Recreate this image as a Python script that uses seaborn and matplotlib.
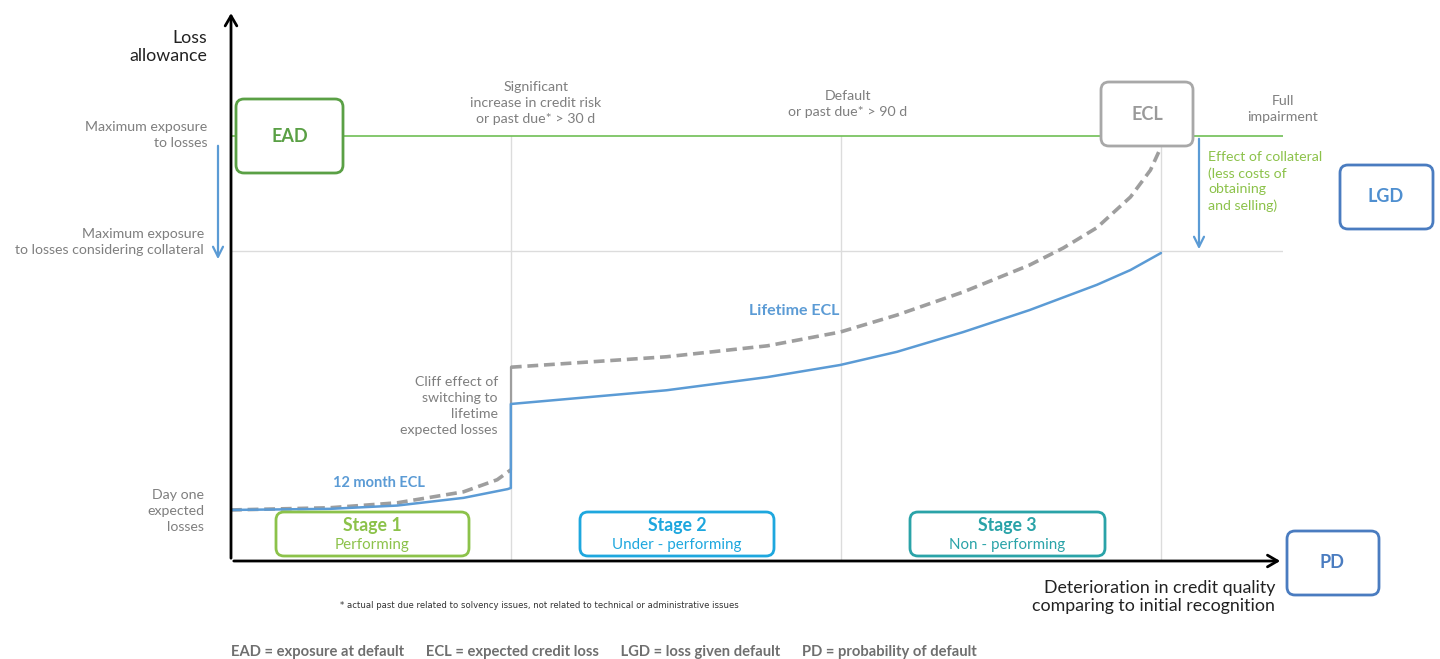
import matplotlib
matplotlib.use("Agg")
import matplotlib.pyplot as plt
import seaborn as sns
import pandas as pd
from matplotlib.patches import FancyBboxPatch

# Kurven (x: Verschlechterung 0..100, y: Risikovorsorge 0..100)
stage1_x = [0, 9.4, 15.8, 22.1, 26.3, 26.6]
stage1_y = [9.3, 9.5, 10.1, 11.5, 13.1, 13.3]
lifetime_x = [26.6, 41.4, 51.0, 57.9, 63.3, 69.6, 75.9, 82.3, 85.5, 88.4]
lifetime_y = [28.6, 31.1, 33.5, 35.7, 38.1, 41.7, 45.7, 50.3, 53.0, 56.1]
dash1_x = [0, 9.4, 15.8, 22.1, 25.3, 26.6]
dash1_y = [9.3, 9.7, 10.6, 12.6, 14.8, 16.6]
dash2_x = [26.6, 41.4, 51.0, 57.9, 63.3, 69.6, 75.9, 79.1, 82.3, 85.5, 87.4, 88.4]
dash2_y = [35.3, 37.2, 39.2, 41.7, 44.8, 49.0, 53.9, 57.0, 60.7, 66.3, 71.2, 75.4]

stage_bounds = [26.6, 58.0, 88.4]
ead_level = 77.4
collateral_level = 56.5

stage_names = ["Stage 1", "Stage 2", "Stage 3"]
stage_desc = ["Performing", "Under - performing", "Non - performing"]

GREEN = "#70bf55"
GREEN_BOX = "#5aa045"
LIGHT_GREEN = "#8cc24a"
BLUE = "#5b9bd5"
GREY = "#9e9e9e"
TXT = "#7f7f7f"
STAGE_COLORS = [LIGHT_GREEN, "#1ea7de", "#2aa3a8"]
LS = 1.38  # Zeilenabstand der grauen Beschriftungen

sns.set_theme(style="white")
plt.rcParams["font.family"] = ["Lato", "DejaVu Sans"]

fig = plt.figure(figsize=(14.4, 6.59), dpi=100)
ax = fig.add_axes([231 / 1440, 98 / 659, 1052 / 1440, 549 / 659])
ax.set_xlim(0, 100)
ax.set_ylim(0, 100)
ax.axis("off")

# Hilfslinien
for xb in stage_bounds:
    top = ead_level if xb < 80 else 75.5
    ax.plot([xb, xb], [0, top], color="#dcdcdc", lw=1, zorder=1)
ax.plot([0, 100], [collateral_level, collateral_level], color="#dcdcdc", lw=1, zorder=1)
ax.plot([0, 100], [ead_level, ead_level], color=GREEN, lw=1.2, zorder=1)

# Kurven
curves = pd.concat([
    pd.DataFrame({"x": dash1_x, "y": dash1_y, "seg": "d1"}),
    pd.DataFrame({"x": dash2_x, "y": dash2_y, "seg": "d2"}),
])
sns.lineplot(data=curves, x="x", y="y", units="seg", estimator=None, sort=False,
             color=GREY, lw=2.6, linestyle=(0, (3, 1.6)), ax=ax, zorder=2)
ax.plot([dash1_x[-1], dash2_x[0]], [dash1_y[-1], dash2_y[0]], color=GREY, lw=1.6, zorder=2)

solid = pd.concat([
    pd.DataFrame({"x": stage1_x, "y": stage1_y}),
    pd.DataFrame({"x": lifetime_x, "y": lifetime_y}),
])
sns.lineplot(data=solid, x="x", y="y", estimator=None, sort=False,
             color=BLUE, lw=1.8, ax=ax, zorder=3)

# Achsen als Pfeile
ax.annotate("", xy=(0, 100.3), xytext=(0, 0),
            arrowprops=dict(arrowstyle="->,head_length=0.6,head_width=0.35", lw=2, color="black"),
            annotation_clip=False)
ax.annotate("", xy=(100, 0), xytext=(0, 0),
            arrowprops=dict(arrowstyle="->,head_length=0.6,head_width=0.35", lw=2, color="black"),
            annotation_clip=False)

# Overlay in Pixelkoordinaten für Beschriftungen
ov = fig.add_axes([0, 0, 1, 1])
ov.set_xlim(0, 1440)
ov.set_ylim(659, 0)
ov.axis("off")
ov.patch.set_alpha(0)


def box(x0, y0, x1, y1, color, lw=2):
    ov.add_patch(FancyBboxPatch((x0, y0), x1 - x0, y1 - y0,
                                boxstyle="round,pad=0,rounding_size=8",
                                fc="white", ec=color, lw=lw, zorder=5))


box(236, 99, 343, 173, GREEN_BOX)
ov.text(289.5, 136, "EAD", color=GREEN_BOX, fontsize=13, fontweight="bold",
        ha="center", va="center", zorder=6)
box(1101, 82, 1193, 146, "#a8a8a8")
ov.text(1147, 114, "ECL", color="#9a9a9a", fontsize=13, fontweight="bold",
        ha="center", va="center", zorder=6)
box(1340, 165, 1433, 229, "#4a7cc0")
ov.text(1386, 197, "LGD", color="#4f8fd0", fontsize=13, fontweight="bold",
        ha="center", va="center", zorder=6)
box(1287, 531, 1379, 595, "#4a7cc0")
ov.text(1332, 562, "PD", color="#4a7cc0", fontsize=13, fontweight="bold",
        ha="center", va="center", zorder=6)

stage_x = [(276, 469), (580, 774), (910, 1105)]
for (x0, x1), name, desc, col in zip(stage_x, stage_names, stage_desc, STAGE_COLORS):
    box(x0, 512, x1, 556, col)
    ov.text((x0 + x1) / 2, 525, name, color=col, fontsize=12.8, fontweight="bold",
            ha="center", va="center", zorder=6)
    ov.text((x0 + x1) / 2, 545, desc, color=col, fontsize=10.9,
            ha="center", va="center", zorder=6)

ov.text(207, 47, "Loss\nallowance", color="#222222", fontsize=12.8,
        ha="right", va="center", linespacing=1.2)
ov.text(207, 135, "Maximum exposure\nto losses", color=TXT, fontsize=10.2,
        ha="right", va="center", linespacing=LS)
ov.text(204, 242, "Maximum exposure\nto losses considering collateral", color=TXT,
        fontsize=10.2, ha="right", va="center", linespacing=LS)
ov.annotate("", xy=(218, 262), xytext=(218, 143),
            arrowprops=dict(arrowstyle="->,head_length=0.6,head_width=0.3", lw=1.6, color=BLUE))
ov.text(536, 103, "Significant\nincrease in credit risk\nor past due* > 30 d", color=TXT,
        fontsize=10.2, ha="center", va="center", linespacing=LS)
ov.text(848, 104, "Default\nor past due* > 90 d", color=TXT,
        fontsize=10.2, ha="center", va="center", linespacing=LS)
ov.text(1283, 109, "Full\nimpairment", color=TXT,
        fontsize=10.2, ha="center", va="center", linespacing=LS)
ov.text(1208, 151, "Effect of collateral\n(less costs of\nobtaining\nand selling)",
        color=LIGHT_GREEN, fontsize=10.2, ha="left", va="top", linespacing=LS)
ov.annotate("", xy=(1199, 252), xytext=(1199, 136),
            arrowprops=dict(arrowstyle="->,head_length=0.6,head_width=0.3", lw=1.6, color=BLUE))
ov.text(794, 311, "Lifetime ECL", color=BLUE, fontsize=11.5, fontweight="bold",
        ha="center", va="center")
ov.text(379, 483, "12 month ECL", color=BLUE, fontsize=10.5, fontweight="bold",
        ha="center", va="center")
ov.text(498, 406, "Cliff effect of\nswitching to\nlifetime\nexpected losses", color=TXT,
        fontsize=10.2, ha="right", va="center", linespacing=LS)
ov.text(204, 511, "Day one\nexpected\nlosses", color=TXT,
        fontsize=10.2, ha="right", va="center", linespacing=LS)
ov.text(1275, 597, "Deterioration in credit quality\ncomparing to initial recognition",
        color="#222222", fontsize=12.8, ha="right", va="center", linespacing=1.22)
ov.text(340, 606,
        "* actual past due related to solvency issues, not related to technical or administrative issues",
        color="#333333", fontsize=6.1, ha="left", va="center",
        family=["Liberation Sans Narrow", "DejaVu Sans"])
ov.text(231, 652,
        "EAD = exposure at default      ECL = expected credit loss      "
        "LGD = loss given default      PD = probability of default",
        color="#6f6f6f", fontsize=10.6, fontweight="bold", ha="left", va="center")

fig.savefig("out.png", dpi=100, facecolor="white")
